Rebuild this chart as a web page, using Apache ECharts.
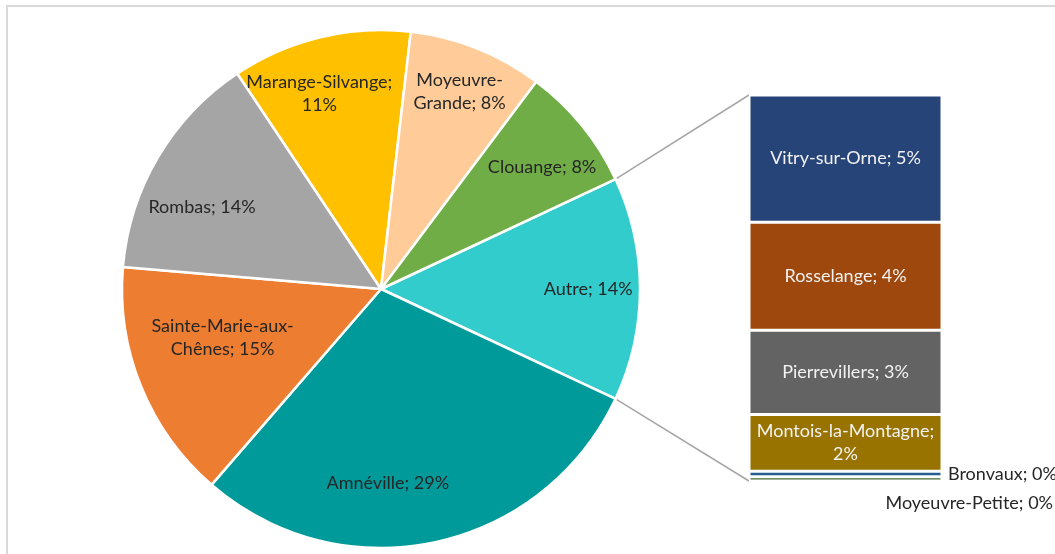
<!DOCTYPE html>
<html>
<head>
<meta charset="utf-8">
<title>Répartition par commune</title>
<script src="https://cdn.jsdelivr.net/npm/echarts@6/dist/echarts.min.js"></script>
<style>
  html, body { margin: 0; padding: 0; background: #fff; }
  #chart { width: 1055px; height: 554px; }
</style>
</head>
<body>
<div id="chart"></div>
<script>
// main pie (Autre = sum of the bar part)
const pieNames = ['Amnéville', 'Sainte-Marie-aux-Chênes', 'Rombas', 'Marange-Silvange', 'Moyeuvre-Grande', 'Clouange']
const pieValues = [29.4, 15.0, 14.3, 11.2, 8.4, 7.8]
const pieColors = ['#009a9a', '#ed7d31', '#a5a5a5', '#ffc000', '#ffcc99', '#70ad47']
const otherName = 'Autre'
const otherColor = '#33cccc'

// secondary bar, top to bottom
const barNames = ['Vitry-sur-Orne', 'Rosselange', 'Pierrevillers', 'Montois-la-Montagne', 'Bronvaux', 'Moyeuvre-Petite']
const barValues = [4.6, 3.9, 3.05, 2.05, 0.2, 0.15]
const barColors = ['#264478', '#9e480e', '#636363', '#997300', '#255e91', '#43682b']

// layout
const CX = 381
const CY = 289
const R = 259
const BAR = { left: 749, top: 95, width: 193, height: 386 }
const FONT = 'Lato'
const FONT_SIZE = 18

// where the label text breaks
const breakAfter = {
  'Sainte-Marie-aux-Chênes': 'Sainte-Marie-aux-',
  'Moyeuvre-Grande': 'Moyeuvre-',
  'Marange-Silvange': 'Marange-Silvange;',
  'Montois-la-Montagne': 'Montois-la-Montagne;'
}

// label placement inside pie (radius fraction, angle shift in deg), order: Autre first
const labelRadius = [0.80, 0.75, 0.64, 0.76, 0.79, 0.82, 0.78]
const labelShift = [0, 10, 5, -6, -4, 0, 2]

const otherValue = barValues.reduce((a, b) => a + b, 0)
const total = pieValues.reduce((a, b) => a + b, 0) + otherValue

function labelText(name, value) {
  const pct = Math.round(value / total * 100) + '%'
  const txt = name + '; ' + pct
  const cut = breakAfter[name]
  if (cut) return cut + '\n' + txt.slice(cut.length).trim()
  return txt
}

const pieData = [{ name: otherName, value: otherValue, itemStyle: { color: otherColor } }]
pieNames.forEach((n, i) => {
  pieData.push({ name: n, value: pieValues[i], itemStyle: { color: pieColors[i] } })
})

const startAngle = otherValue / total * 180

// mid angle (screen, clockwise from 3 o'clock) of each slice
const midAngles = []
let acc = 0
pieData.forEach(d => {
  midAngles.push(-startAngle + (acc + d.value / 2) / total * 360)
  acc += d.value
})

const barSeries = []
for (let i = barNames.length - 1; i >= 0; i--) {
  const name = barNames[i]
  let label = {
    show: true,
    position: 'inside',
    color: '#f2f2f2',
    fontFamily: FONT,
    fontSize: FONT_SIZE,
    lineHeight: 23,
    formatter: () => labelText(name, barValues[i])
  }
  if (name === 'Bronvaux') {
    label = Object.assign(label, { position: 'right', distance: 6, color: '#262626' })
  } else if (name === 'Moyeuvre-Petite') {
    label = Object.assign(label, {
      position: ['100%', '100%'], align: 'right', verticalAlign: 'middle',
      offset: [111, 22], color: '#262626'
    })
  }
  barSeries.push({
    name: name,
    type: 'bar',
    stack: 'autre',
    barWidth: '100%',
    data: [barValues[i]],
    itemStyle: { color: barColors[i], borderColor: '#fff', borderWidth: 1.5 },
    label: label,
    emphasis: { disabled: true }
  })
}

// connector lines from the Autre slice edges to the bar corners
const a = startAngle * Math.PI / 180
const p1 = [CX + R * Math.cos(a), CY - R * Math.sin(a)]
const p2 = [CX + R * Math.cos(a), CY + R * Math.sin(a)]

const chart = echarts.init(document.getElementById('chart'))
chart.setOption({
  animation: false,
  backgroundColor: '#fff',
  grid: { left: BAR.left, top: BAR.top, width: BAR.width, height: BAR.height },
  xAxis: { type: 'category', data: [''], show: false },
  yAxis: { type: 'value', min: 0, max: otherValue, show: false },
  graphic: [
    {
      type: 'rect',
      shape: { x: 7, y: 6, width: 1200, height: 1000 },
      style: { fill: 'none', stroke: '#d9d9d9', lineWidth: 2 },
      silent: true
    },
    {
      type: 'line',
      shape: { x1: p1[0], y1: p1[1], x2: BAR.left, y2: BAR.top },
      style: { stroke: '#a6a6a6', lineWidth: 1.5 }
    },
    {
      type: 'line',
      shape: { x1: p2[0], y1: p2[1], x2: BAR.left, y2: BAR.top + BAR.height },
      style: { stroke: '#a6a6a6', lineWidth: 1.5 }
    }
  ],
  series: [
    {
      type: 'pie',
      center: [CX, CY],
      radius: R,
      startAngle: startAngle,
      clockwise: true,
      avoidLabelOverlap: false,
      itemStyle: { borderColor: '#fff', borderWidth: 2.5 },
      label: {
        position: 'inside',
        color: '#262626',
        fontFamily: FONT,
        fontSize: FONT_SIZE,
        lineHeight: 23,
        formatter: p => labelText(p.name, p.value)
      },
      labelLine: { show: false },
      labelLayout: p => {
        const i = p.dataIndex
        const t = (midAngles[i] + labelShift[i]) * Math.PI / 180
        return {
          x: CX + R * labelRadius[i] * Math.cos(t),
          y: CY + R * labelRadius[i] * Math.sin(t),
          align: 'center',
          verticalAlign: 'middle'
        }
      },
      emphasis: { disabled: true },
      data: pieData
    }
  ].concat(barSeries)
})
</script>
</body>
</html>
